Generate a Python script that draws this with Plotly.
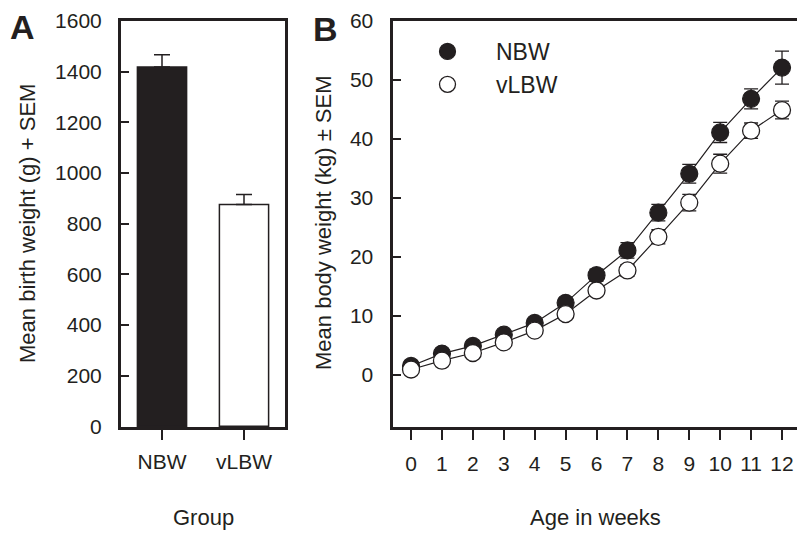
import plotly.graph_objects as go

# ---- Panel A data ----
groups = ["NBW", "vLBW"]
birth_weight = [1418, 875]
birth_sem = [49, 40]

# ---- Panel B data ----
weeks = [0, 1, 2, 3, 4, 5, 6, 7, 8, 9, 10, 11, 12]
nbw_weight = [1.5, 3.6, 4.9, 6.8, 8.8, 12.2, 16.9, 21.1, 27.5, 34.1, 41.1, 46.8, 52.1]
nbw_sem = [0.2, 0.3, 0.4, 0.5, 0.6, 0.8, 1.0, 1.3, 1.4, 1.6, 1.7, 1.7, 2.8]
vlbw_weight = [0.9, 2.4, 3.7, 5.5, 7.5, 10.3, 14.3, 17.7, 23.4, 29.2, 35.8, 41.4, 44.9]
vlbw_sem = [0.1, 0.2, 0.3, 0.4, 0.5, 0.6, 0.8, 1.0, 1.2, 1.4, 1.6, 1.3, 1.5]

W, H = 797, 533
INK = "#231f20"
FONT = "Liberation Sans, Arial, sans-serif"

def px(x):
    return x / W

def py(y):
    return 1 - y / H

fig = go.Figure()

# Panel A bars
fig.add_trace(go.Bar(
    x=groups, y=birth_weight, width=0.6,
    marker=dict(color=[INK, "white"], line=dict(color=INK, width=1.5)),
    error_y=dict(type="data", array=birth_sem, arrayminus=[0, 0], symmetric=False,
                 color=INK, thickness=1.5, width=8),
    xaxis="x", yaxis="y", showlegend=False,
))

# Panel B lines
fig.add_trace(go.Scatter(
    x=weeks, y=nbw_weight, mode="lines+markers",
    line=dict(color=INK, width=1.2),
    marker=dict(size=17, color=INK, line=dict(color=INK, width=1.2)),
    error_y=dict(type="data", array=nbw_sem, color=INK, thickness=1.3, width=7),
    xaxis="x2", yaxis="y2", showlegend=False,
))
fig.add_trace(go.Scatter(
    x=weeks, y=vlbw_weight, mode="lines+markers",
    line=dict(color=INK, width=1.2),
    marker=dict(size=17, color="white", line=dict(color=INK, width=1.3)),
    error_y=dict(type="data", array=vlbw_sem, color=INK, thickness=1.3, width=7),
    xaxis="x2", yaxis="y2", showlegend=False,
))

# legend-only entries
fig.add_trace(go.Scatter(x=[None], y=[None], mode="markers", name="NBW",
                         marker=dict(size=17, color=INK, line=dict(color=INK, width=1.2)),
                         xaxis="x2", yaxis="y2"))
fig.add_trace(go.Scatter(x=[None], y=[None], mode="markers", name="vLBW",
                         marker=dict(size=17, color="white", line=dict(color=INK, width=1.3)),
                         xaxis="x2", yaxis="y2"))

ydom = [py(427), py(21)]
tickfont = dict(family=FONT, size=21, color=INK)

fig.update_layout(
    width=W, height=H, template="none",
    margin=dict(l=0, r=0, t=0, b=0),
    paper_bgcolor="white", plot_bgcolor="white",
    font=dict(family=FONT, color=INK),
    bargap=0.4,
    xaxis=dict(domain=[px(121), px(285)], range=[-0.5, 1.5], type="category",
               showline=True, linewidth=3, linecolor=INK, mirror=True,
               ticks="outside", ticklen=10, tickwidth=1.5, tickcolor=INK,
               tickfont=tickfont, showgrid=False, zeroline=False, automargin=False,
               ticklabelstandoff=4),
    yaxis=dict(domain=ydom, range=[-3, 1600], tickvals=list(range(0, 1601, 200)),
               showline=True, linewidth=3, linecolor=INK, mirror=True,
               ticks="inside", ticklen=8, tickwidth=1.5, tickcolor=INK,
               tickfont=tickfont, showgrid=False, zeroline=False, automargin=False,
               ticklabelstandoff=12),
    xaxis2=dict(domain=[px(392.5), 1.0], range=[-0.6, 12.485],
                tickvals=weeks, anchor="y2",
                showline=True, linewidth=3, linecolor=INK, mirror=True,
                ticks="outside", ticklen=10, tickwidth=1.5, tickcolor=INK,
                tickfont=tickfont, showgrid=False, zeroline=False, automargin=False,
                ticklabelstandoff=6),
    yaxis2=dict(domain=ydom, range=[-8.85, 60], tickvals=[0, 10, 20, 30, 40, 50, 60],
                anchor="x2",
                showline=True, linewidth=3, linecolor=INK,
                ticks="inside", ticklen=8, tickwidth=1.5, tickcolor=INK,
                tickfont=tickfont, showgrid=False, zeroline=False, automargin=False,
                ticklabelstandoff=12),
    legend=dict(x=px(399), y=py(30), xanchor="left", yanchor="top",
                font=dict(family=FONT, size=23, color=INK),
                bgcolor="rgba(0,0,0,0)", itemwidth=87, tracegroupgap=0),
)

ann = [
    dict(text="<b>A</b>", x=px(22), y=py(27), font=dict(size=34)),
    dict(text="<b>B</b>", x=px(325), y=py(29), font=dict(size=34)),
    dict(text="Group", x=px(203), y=py(517), font=dict(size=22)),
    dict(text="Age in weeks", x=px(595), y=py(517), font=dict(size=22)),
    dict(text="Mean birth weight (g) + SEM", x=px(27), y=py(224), textangle=-90, font=dict(size=22)),
    dict(text="Mean body weight (kg) ± SEM", x=px(323), y=py(223), textangle=-90, font=dict(size=22)),
]
for a in ann:
    a.update(xref="paper", yref="paper", showarrow=False, xanchor="center", yanchor="middle")
    a["font"].update(family=FONT, color=INK)
fig.update_layout(annotations=ann)

fig.write_html("out.html")
